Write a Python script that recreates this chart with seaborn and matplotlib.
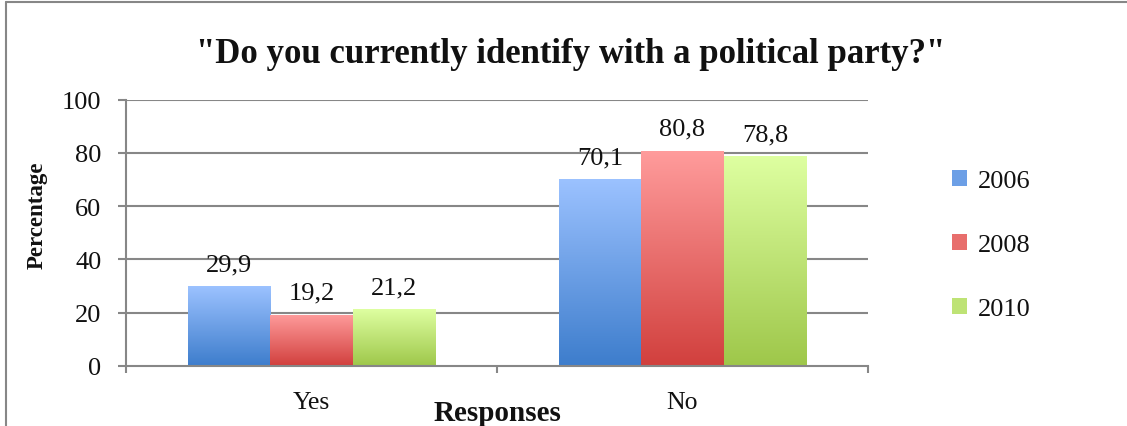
import numpy as np
import pandas as pd
import matplotlib
matplotlib.use("Agg")
import matplotlib.pyplot as plt
import seaborn as sns
from matplotlib.colors import LinearSegmentedColormap
from matplotlib.lines import Line2D

responses = ["Yes", "No"]
years = ["2006", "2008", "2010"]
values_2006 = [29.9, 70.1]
values_2008 = [19.2, 80.8]
values_2010 = [21.2, 78.8]
yticks = [0, 20, 40, 60, 80, 100]

df = pd.DataFrame({
    "Response": responses * 3,
    "Year": [y for y in years for _ in responses],
    "Percentage": values_2006 + values_2008 + values_2010,
})

grad = {
    "2006": ((0.24, 0.49, 0.80), (0.61, 0.76, 1.00)),
    "2008": ((0.82, 0.25, 0.24), (1.00, 0.61, 0.61)),
    "2010": ((0.62, 0.78, 0.29), (0.87, 1.00, 0.63)),
}
mid = {k: tuple((a + b) / 2 for a, b in zip(*v)) for k, v in grad.items()}

sns.set_theme(style="white")
serif = ["Liberation Serif", "DejaVu Serif"]
plt.rcParams["font.family"] = serif

FS = 19
TXT = "#111111"
fig = plt.figure(figsize=(11.27, 4.27), dpi=100)
ax = fig.add_axes([0.1118, 0.1412, 0.7702 - 0.1118, 0.7642 - 0.1412])

sns.barplot(data=df, x="Response", y="Percentage", hue="Year", order=responses,
            hue_order=years, palette=mid, width=0.667, gap=0, ax=ax,
            errorbar=None, saturation=1, edgecolor="none", linewidth=0)

ax.set_ylim(0, 100)
ax.set_xlim(-0.5, 1.5)
ax.set_yticks(yticks)
ax.set_yticklabels([str(t) for t in yticks], fontsize=FS, color=TXT)

# gradient fills
gimg = np.linspace(0, 1, 256).reshape(-1, 1)
for year, cont in zip(years, ax.containers):
    bot, top = grad[year]
    cmap = LinearSegmentedColormap.from_list("g" + year, [bot, top])
    for p in cont.patches:
        x0, y0 = p.get_x(), p.get_y()
        w, h = p.get_width(), p.get_height()
        im = ax.imshow(gimg, extent=[x0, x0 + w, y0, y0 + h], origin="lower",
                       cmap=cmap, aspect="auto", zorder=2.5)
        im.set_clip_path(p)
    ax.bar_label(cont, labels=[f"{v:.1f}".replace(".", ",") for v in cont.datavalues],
                 padding=8, fontsize=FS, color=TXT)
ax.set_xlim(-0.5, 1.5)
ax.set_ylim(0, 100)
ax.set_aspect("auto")

gc = "#878787"
for t in yticks[1:]:
    ax.axhline(t, color=gc, lw=1.5, zorder=1)
for s in ["top", "right"]:
    ax.spines[s].set_visible(False)
for s in ["left", "bottom"]:
    ax.spines[s].set_color(gc)
    ax.spines[s].set_linewidth(1.5)

ax.tick_params(axis="y", length=5.8, width=1.5, color=gc, left=True, pad=12)
ax.set_xticks([0, 1])
ax.set_xticklabels(responses, fontsize=18.5, color=TXT)
ax.set_xticks([-0.5, 0.5, 1.5], minor=True)
ax.tick_params(axis="x", which="major", length=0, pad=18)
ax.tick_params(axis="x", which="minor", length=5, width=1.5, color=gc, bottom=True)

ax.set_ylabel("Percentage", fontsize=16.5, fontweight="bold", color=TXT)
ax.yaxis.set_label_coords(-0.105, 0.57)
ax.set_xlabel("Responses", fontsize=21, fontweight="bold", color=TXT)
ax.xaxis.set_label_coords(0.501, -0.125)

fig.text(0.506, 0.872, "\"Do you currently identify with a political party?\"",
         ha="center", va="center", fontsize=25, fontweight="bold", color=TXT)

leg = ax.legend(loc="center left", bbox_to_anchor=(1.081, 0.454), frameon=False,
                fontsize=FS, handlelength=0.57, handleheight=0.57, labelspacing=1.58,
                handletextpad=0.4)
for t in leg.get_texts():
    t.set_color(TXT)

# outer chart border (left and top)
fig.add_artist(Line2D([5.5 / 1127, 5.5 / 1127], [0, 1 - 2.5 / 427], color=gc, lw=1.5,
                      transform=fig.transFigure))
fig.add_artist(Line2D([5.5 / 1127, 1], [1 - 2.5 / 427, 1 - 2.5 / 427], color=gc, lw=1.5,
                      transform=fig.transFigure))

fig.savefig("out.png", dpi=100, facecolor="white")
